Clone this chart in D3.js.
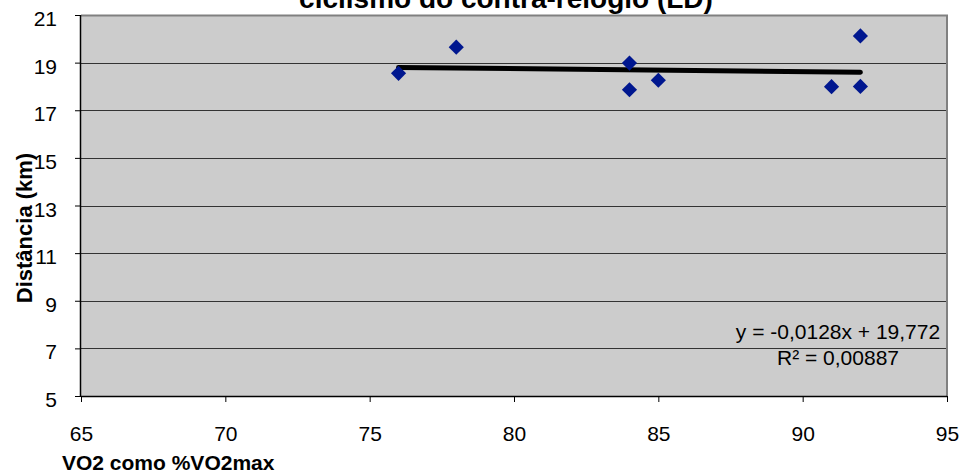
<!DOCTYPE html>
<html><head><meta charset="utf-8">
<script src="https://cdn.jsdelivr.net/npm/d3@7"></script>
<style>body{margin:0;background:#fff;}svg{display:block;font-family:"Liberation Sans",Arial,sans-serif;}</style>
</head><body>
<svg id="c" width="963" height="475"></svg>
<script>
const xValues = [76, 78, 84, 84, 85, 91, 92, 92];
const yValues = [18.55, 19.65, 18.98, 17.86, 18.26, 17.99, 20.12, 18.0];
const xTicks = [65, 70, 75, 80, 85, 90, 95];
const yTicks = [5, 7, 9, 11, 13, 15, 17, 19, 21];
const trendSlope = -0.0128, trendIntercept = 19.772;
const trendRange = [76, 92];
const titleText = "ciclismo do contra-relógio (LD)";
const xTitle = "VO2 como %VO2max";
const yTitle = "Distância (km)";
const eqText = "y = -0,0128x + 19,772";
const r2Text = "R² = 0,00887";

const svg = d3.select("#c");
const L = 81, R = 947, T = 15, B = 396;
const x = d3.scaleLinear().domain([65, 95]).range([L, R]);
const y = d3.scaleLinear().domain([5, 21]).range([B, T]);

svg.append("rect").attr("x", L).attr("y", T).attr("width", R - L).attr("height", B - T).attr("fill", "#cccccc");
// gridlines
svg.append("g").selectAll("line").data(yTicks.filter(d => d > 5 && d < 21)).join("line")
  .attr("x1", L).attr("x2", R).attr("y1", d => Math.round(y(d)) + 0.5).attr("y2", d => Math.round(y(d)) + 0.5)
  .attr("stroke", "#333").attr("stroke-width", 1);
// top and right border
svg.append("path").attr("d", `M${L},${T + 0.5}H${R}V${B}`).attr("fill", "none").attr("stroke", "#808080").attr("stroke-width", 2);

// axes
const yAxis = d3.axisLeft(y).tickValues(yTicks).tickSize(6).tickPadding(18).tickFormat(d3.format("d"));
const gy = svg.append("g").attr("transform", `translate(${L},0)`).call(yAxis);
const xAxis = d3.axisBottom(x).tickValues(xTicks).tickSize(6).tickPadding(24).tickFormat(d3.format("d"));
const gx = svg.append("g").attr("transform", `translate(0,${B})`).call(xAxis);
[gx, gy].forEach(g => {
  g.select(".domain").attr("stroke", "#000").attr("stroke-width", 1.5);
  g.selectAll(".tick line").attr("stroke", "#000");
  g.selectAll("text").attr("font-size", 21).attr("fill", "#000").attr("font-family", "Liberation Sans, Arial, sans-serif");
});
gy.selectAll("text").attr("dy", "0.5em");
gy.select(".domain").attr("d", `M-0.5,${T}V${B}`);
gx.select(".domain").attr("d", `M${L},0.5H${R}`);

// trendline
svg.append("line")
  .attr("x1", x(trendRange[0])).attr("y1", y(trendSlope * trendRange[0] + trendIntercept))
  .attr("x2", x(trendRange[1])).attr("y2", y(trendSlope * trendRange[1] + trendIntercept))
  .attr("stroke", "#000").attr("stroke-width", 5).attr("stroke-linecap", "round");

// points
const pts = xValues.map((v, i) => ({x: v, y: yValues[i]}));
svg.append("g").selectAll("path").data(pts).join("path")
  .attr("d", d3.symbol(d3.symbolSquare, 115))
  .attr("transform", d => `translate(${x(d.x)},${y(d.y)}) rotate(45)`)
  .attr("fill", "#00178f");

// texts
svg.append("text").attr("x", 506).attr("y", 8).attr("text-anchor", "middle")
  .attr("font-size", 28).attr("font-weight", "bold").text(titleText);
svg.append("text").attr("x", 62).attr("y", 470)
  .attr("font-size", 21).attr("font-weight", "bold").text(xTitle);
svg.append("text").attr("transform", "translate(32,228) rotate(-90)").attr("text-anchor", "middle")
  .attr("font-size", 22).attr("font-weight", "bold").text(yTitle);
svg.append("text").attr("x", 838).attr("y", 339).attr("text-anchor", "middle").attr("font-size", 21).text(eqText);
svg.append("text").attr("x", 838).attr("y", 365).attr("text-anchor", "middle").attr("font-size", 21).text(r2Text);
</script>
</body></html>
